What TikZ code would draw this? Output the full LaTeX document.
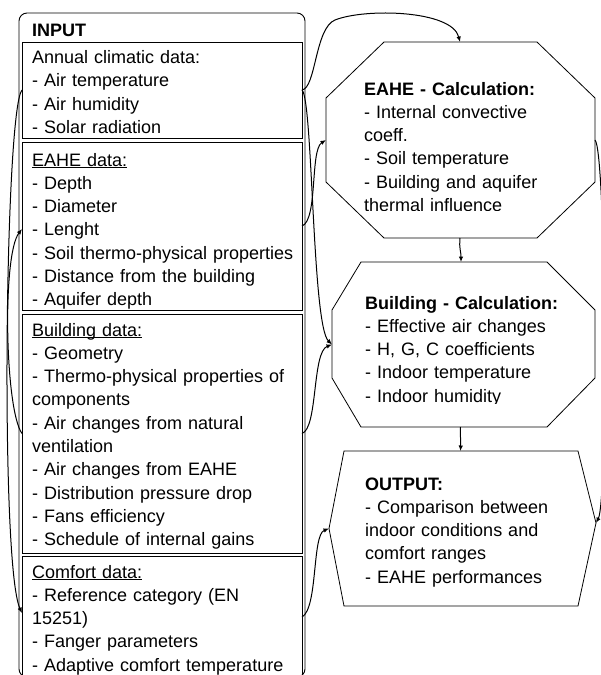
\documentclass[tikz,border=0pt]{standalone}
\usepackage{fontspec}
\setmainfont{Liberation Sans}
\usetikzlibrary{arrows.meta}
\newcommand\ulx[1]{\setbox0\hbox{#1}\rlap{\rule[-1.8pt]{\wd0}{0.9pt}}#1}
\tikzset{
  box/.style={draw, line width=0.9pt, inner sep=0pt, outer sep=0pt, anchor=north west},
  shapebox/.style={inner sep=0pt, outer sep=0pt, anchor=north west},
  poly/.style={draw, line width=0.8pt, line join=miter},
  txt/.style={anchor=base west, inner sep=0pt, text width=280pt, align=left,
    font=\fontsize{18}{23.3}\selectfont},
  conn/.style={line width=1pt, -{Latex[length=5.5pt,width=4.5pt]}}
}
\begin{document}
\begin{tikzpicture}[x=1pt,y=-1pt]
\useasboundingbox (0,0) rectangle (601,675);
\clip (0,0) rectangle (601,675);
\fill[white] (0,0) rectangle (601,675);

% INPUT column
\node[box, rounded corners=8pt, minimum width=286pt, minimum height=664pt] (inbox) at (19,13) {};
\node[box, minimum width=280pt, minimum height=96pt] (b1) at (22,42) {};
\node[box, minimum width=280pt, minimum height=168pt] (b2) at (22,142) {};
\node[box, minimum width=280pt, minimum height=239pt] (b3) at (22,314) {};
\node[box, minimum width=280pt, minimum height=122pt] (b4) at (22,556) {};

\node[txt, font=\fontsize{18}{23.3}\selectfont\bfseries] (inlbl) at (32,36.7) {INPUT};
\node[txt] (t1) at (32,63.5) {Annual climatic data:\\- Air temperature\\- Air humidity\\- Solar radiation};
\node[txt] (t2) at (32,166) {\ulx{EAHE data:}\\- Depth\\- Diameter\\- Lenght\\- Soil thermo-physical properties\\- Distance from the building\\- Aquifer depth};
\node[txt] (t3) at (32,336) {\ulx{Building data:}\\- Geometry\\- Thermo-physical properties of\\components\\- Air changes from natural\\ventilation\\- Air changes from EAHE\\- Distribution pressure drop\\- Fans efficiency\\- Schedule of internal gains};
\node[txt] (t4) at (32,578) {\ulx{Comfort data:}\\- Reference category (EN\\15251)\\- Fanger parameters\\- Adaptive comfort temperature};

% Right shapes (reference areas)
\node[shapebox, minimum width=269pt, minimum height=196pt] (eahe) at (326,42) {};
\node[shapebox, minimum width=263pt, minimum height=165pt] (bld) at (332,262) {};
\node[shapebox, minimum width=267pt, minimum height=155pt] (out) at (329,451) {};

\draw[poly] (384,42) -- (537,42) -- (595,98) -- (595,182) -- (537,238) -- (384,238) -- (326,182) -- (326,98) -- cycle;
\draw[poly] (361,262) -- (547,262) -- (595,310) -- (595,378) -- (547,427) -- (361,427) -- (332,378) -- (332,310) -- cycle;
\draw[poly] (344,451) -- (578,451) -- (596,523) -- (578,606) -- (344,606) -- (329,528.5) -- cycle;

\begin{scope}
\clip (330,40) rectangle (600,210.5);
\node[txt] (etxt) at (364,95) {\textbf{EAHE - Calculation:}\\- Internal convective\\coeff.\\- Soil temperature\\- Building and aquifer\\thermal influence};
\end{scope}
\begin{scope}
\clip (330,265) rectangle (600,403.5);
\node[txt] (btxt) at (365,309) {\textbf{Building - Calculation:}\\- Effective air changes\\- H, G, C coefficients\\- Indoor temperature\\- Indoor humidity};
\end{scope}
\node[txt] (otxt) at (365,490) {\textbf{OUTPUT:}\\- Comparison between\\indoor conditions and\\comfort ranges\\- EAHE performances};

% connectors right side
\draw[conn] (b1.east) .. controls (316,88) and (315,28) .. (335,20) .. controls (365,8) and (452,10) .. ([xshift=-0.5pt]eahe.north);
\draw[conn] (b1.east) .. controls (313,100) and (312,325) .. (bld.west);
\draw[conn] (b2.east) .. controls (318,220) and (310,150) .. (eahe.west);
\draw[conn] (b3.east) .. controls (318,428) and (312,352) .. (bld.west);
\draw[conn] (b4.east) .. controls (318,608) and (312,535) .. (out.west);
\draw[conn] (eahe.east) .. controls (606,150) and (608,500) .. ([yshift=5.5pt]out.east);
\draw[conn] ([xshift=-0.5pt]eahe.south) .. controls (459,250) and (461,250) .. ([xshift=-2.5pt]bld.north);
\draw[conn] ([xshift=-3pt]bld.south) .. controls (460,438) and (461,440) .. ([xshift=-2pt]out.north);

% connectors left side
\draw[conn] (b1.west) .. controls (5,110) and (0,565) .. ([yshift=4pt]b4.west);
\draw[conn] (b3.west) .. controls (5,410) and (2,255) .. ([yshift=-3pt]b2.west);
\end{tikzpicture}
\end{document}
